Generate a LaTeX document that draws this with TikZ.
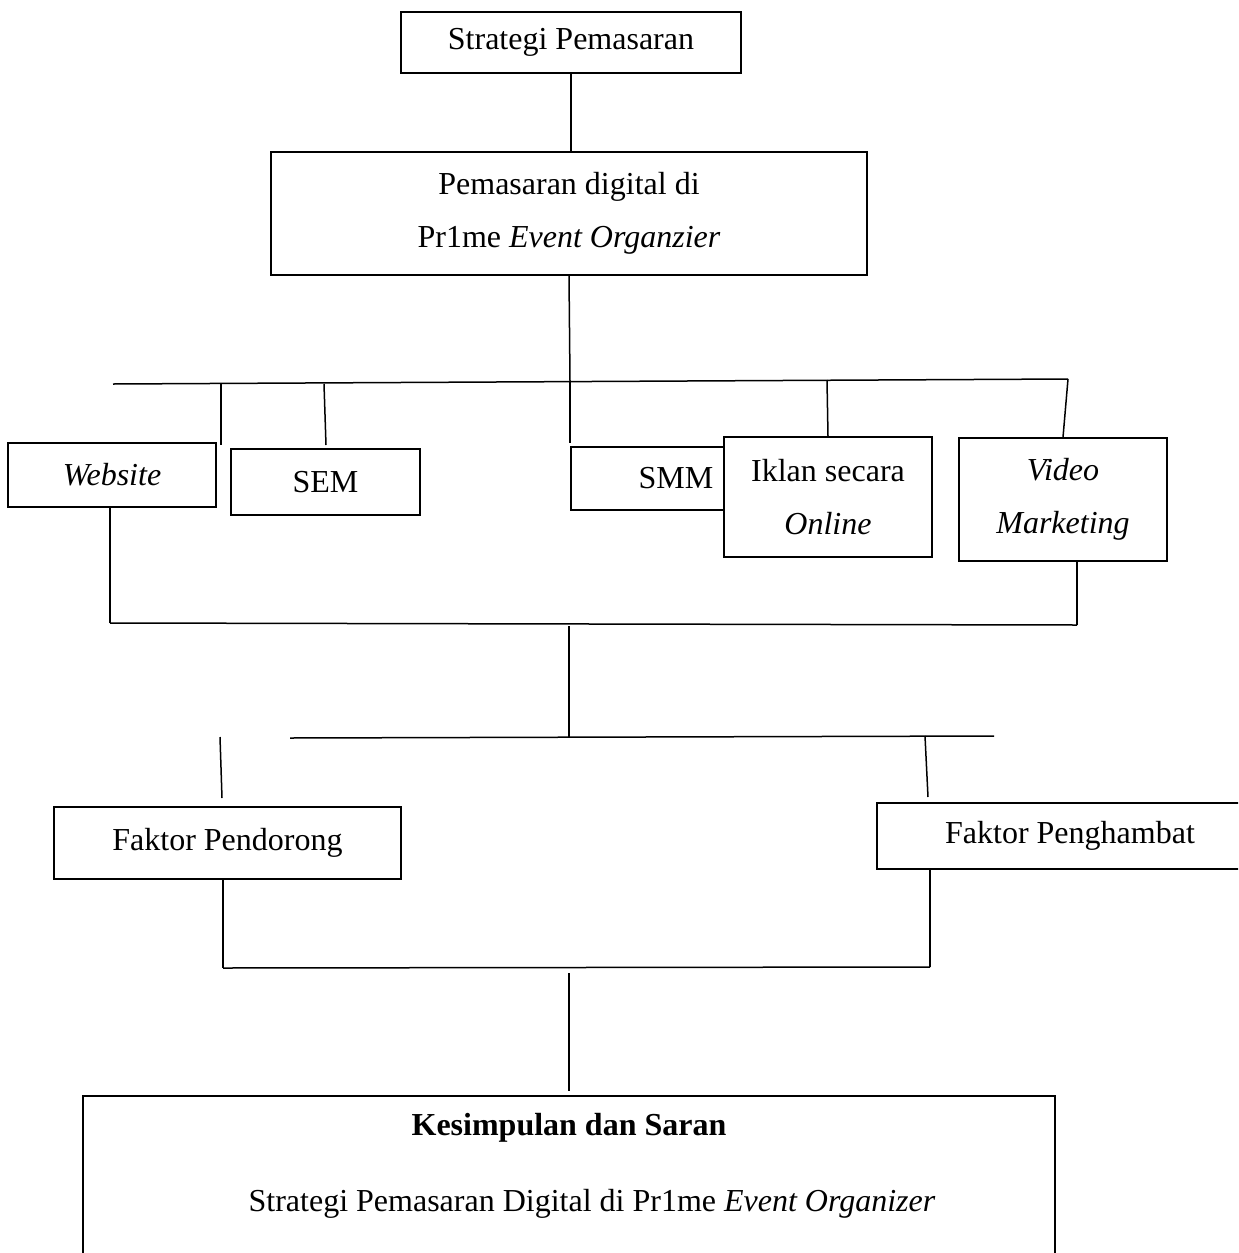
\documentclass[tikz,border=0pt]{standalone}
\usepackage{fontspec}
\setmainfont{Liberation Serif}
\usetikzlibrary{positioning}

\begin{document}
\begin{tikzpicture}[x=0.5pt, y=-0.5pt,
	kotak/.style={draw, line width=0.75pt, fill=white, inner sep=0pt, align=center, font=\fontsize{16}{26.5}\selectfont},
	teks/.style={inner sep=0pt, font=\fontsize{16}{26.5}\selectfont},
	garis/.style={line width=0.75pt}]
	\useasboundingbox (0,0) rectangle (1238,1253);
	\clip (0,0) rectangle (1238,1253);

	\node[kotak, minimum width=170pt, minimum height=30.5pt] (strategi) at (571,42.5) {Strategi Pemasaran};
	\node[kotak, minimum width=298pt, minimum height=61.5pt] (digital) at (569,213.5) {Pemasaran digital di\\Pr1me \textit{Event Organzier}};
	\node[kotak, minimum width=104pt, minimum height=32pt] (website) at (112,475) {\textit{Website}};
	\node[kotak, minimum width=94.5pt, minimum height=33pt] (sem) at (325.5,482) {SEM};
	\node[kotak, minimum width=105pt, minimum height=31.5pt] (smm) at (676,478.5) {SMM};
	\node[kotak, minimum width=104pt, minimum height=60pt] (iklan) at (828,497) {Iklan secara\\\textit{Online}};
	\node[kotak, minimum width=104pt, minimum height=61.5pt] (video) at (1063,499.5) {\textit{Video}\\\textit{Marketing}};
	\node[kotak, minimum width=173.5pt, minimum height=36pt] (pendorong) at (227.5,843) {Faktor Pendorong};
	\node[kotak, minimum width=193pt, minimum height=33pt] (penghambat) at (1070,836) {Faktor Penghambat};
	\node[kotak, minimum width=486pt, minimum height=100pt, anchor=north] (kesimpulan) at (569,1095) {};
	\node[teks, font=\fontsize{16}{26.5}\selectfont\bfseries] (judul) at (569,1128) {Kesimpulan dan Saran};
	\node[teks] (isi) at (592,1204) {Strategi Pemasaran Digital di Pr1me \textit{Event Organizer}};

	\coordinate (bus1w) at (113,384);
	\coordinate (bus1e) at (1068,379);
	\coordinate (bus2w) at (110,623);
	\coordinate (bus2e) at (1077,625);
	\coordinate (bus3w) at (290,738);
	\coordinate (bus3e) at (994,736);
	\coordinate (bus4w) at (223,968);
	\coordinate (bus4e) at (930,967);

	\draw[garis] (strategi.south) -- (strategi.south |- digital.north);
	\draw[garis] (digital.south) -- (570,381) coordinate (cabang1);
	\draw[garis] (bus1w) -- (bus1e);
	\foreach \n/\xa/\ya/\xb/\yb in {1/221/384/221/445, 2/324/384/326/445, 3/570/381/570/443,
		4/569/626/569/737, 5/220/737/222/798, 6/925/736/928/797, 7/569/973/569/1091}
		\draw[garis] (\xa,\ya) coordinate (atas\n) -- (\xb,\yb) coordinate (bawah\n);
	\draw[garis] (827,380) coordinate (atas8) -- (iklan.north);
	\draw[garis] (bus1e) -- (video.north);

	\draw[garis] (bus2w |- website.south) -- (bus2w);
	\draw[garis] (bus2e |- video.south) -- (bus2e);
	\draw[garis] (bus2w) -- (bus2e);
	\draw[garis] (bus3w) -- (bus3e);
	\draw[garis] (bus4w |- pendorong.south) -- (bus4w);
	\draw[garis] (bus4e |- penghambat.south) -- (bus4e);
	\draw[garis] (bus4w) -- (bus4e);
\end{tikzpicture}
\end{document}
